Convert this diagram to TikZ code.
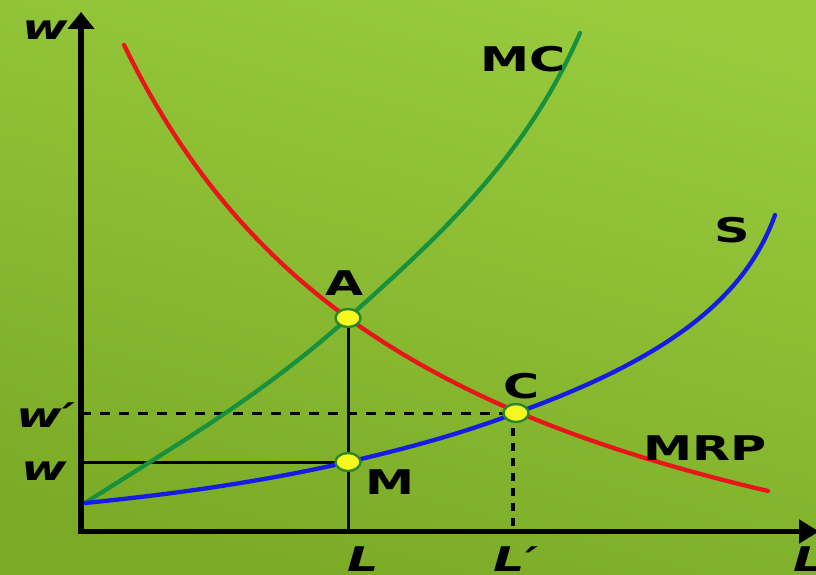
\documentclass[tikz,border=0pt]{standalone}
\usepackage{fontspec}
\setmainfont{DejaVu Sans}
\usetikzlibrary{arrows.meta}
\definecolor{bgtop}{RGB}{153,203,61}
\definecolor{bgbot}{RGB}{122,170,38}
\definecolor{mrpred}{RGB}{232,22,26}
\definecolor{mcgreen}{RGB}{24,145,62}
\definecolor{sblue}{RGB}{22,28,228}
\definecolor{ptfill}{RGB}{248,248,30}
\definecolor{ptline}{RGB}{40,135,40}
\newcommand{\stretchtxt}[1]{\scalebox{1.45}[1]{#1}}
\tikzset{
  lab/.style={font=\fontsize{34}{40}\selectfont\bfseries, inner sep=0pt, anchor=base},
  axlab/.style={font=\fontsize{34}{40}\selectfont\bfseries\itshape, inner sep=0pt, anchor=base},
  curve/.style={line width=4.3pt, line cap=round},
  guide/.style={line width=3pt, black},
  dashguide/.style={line width=3pt, black, dash pattern=on 10pt off 9pt},
  vdashguide/.style={line width=3.6pt, black, dash pattern=on 8pt off 7pt},
  axis/.style={line width=5.5pt, black},
  ptmark/.style={fill=ptfill, draw=ptline, line width=2.4pt},
}
\begin{document}
\begin{tikzpicture}[x=1pt, y=-1pt]
\clip (0,0) rectangle (816,575);
\shade[top color=bgtop, bottom color=bgbot, shading angle=-15] (-20,-20) rectangle (836,595);

% named points
\coordinate (O) at (81,531.5);
\coordinate (ytop) at (81,12);
\coordinate (xend) at (819,531.5);
\coordinate (A) at (348,318);
\coordinate (M) at (348,462);
\coordinate (C) at (516,413);
\coordinate (s0) at (85,503);
\coordinate (mcend) at (580,33);
\coordinate (send) at (775,215);

% guide lines
\draw[guide] (M -| O) -- (M);
\draw[guide] (A) -- (A |- O);
\draw[dashguide] (C -| O) -- (C);
\draw[vdashguide] ([xshift=-3pt]C) -- ([xshift=-3pt]C |- O);

% curves
\draw[curve, mcgreen] (s0) .. controls (172.7,446.9) and (260.3,396.9) .. (A)
  .. controls (438,237) and (525,159.5) .. (mcend);
\draw[curve, mrpred] plot[domain=124:768, samples=80, smooth] (\x, {718.6 - 2214.11/((\x+204.7)/100)});
\draw[curve, sblue] (s0) .. controls (173,494.2) and (260,482.2) .. (M)
  .. controls (404,449.1) and (460,434.2) .. (C)
  .. controls (666,359) and (745,299) .. (send);

% axes
\draw[axis, {Triangle[width=26pt,length=17pt]}-{Triangle[width=23pt,length=20pt]}] (ytop) -- (O) -- (xend);

% point markers
\foreach \p in {A,M,C} \draw[ptmark] (\p) ellipse [x radius=12.5, y radius=9];

% labels
\node[axlab] (lw) at (45,40) {\stretchtxt{w}};
\node[lab] (lmc) at (523,72) {\stretchtxt{MC}};
\node[lab] (ls) at (732,242) {\stretchtxt{S}};
\node[lab] (la) at (345,295) {\stretchtxt{A}};
\node[lab] (lc) at (522,398) {\stretchtxt{C}};
\node[lab] (lmrp) at (705,460) {\stretchtxt{MRP}};
\node[lab] (lm) at (390,494) {\stretchtxt{M}};
\node[axlab] (lwp) at (46,427) {\stretchtxt{w′}};
\node[axlab] (lw2) at (44,480) {\stretchtxt{w}};
\node[axlab] (lL) at (363,571) {\stretchtxt{L}};
\node[axlab] (lLp) at (516,571) {\stretchtxt{L′}};
\node[axlab, anchor=base west] (lLx) at (793,571) {\stretchtxt{L}};
\end{tikzpicture}
\end{document}
